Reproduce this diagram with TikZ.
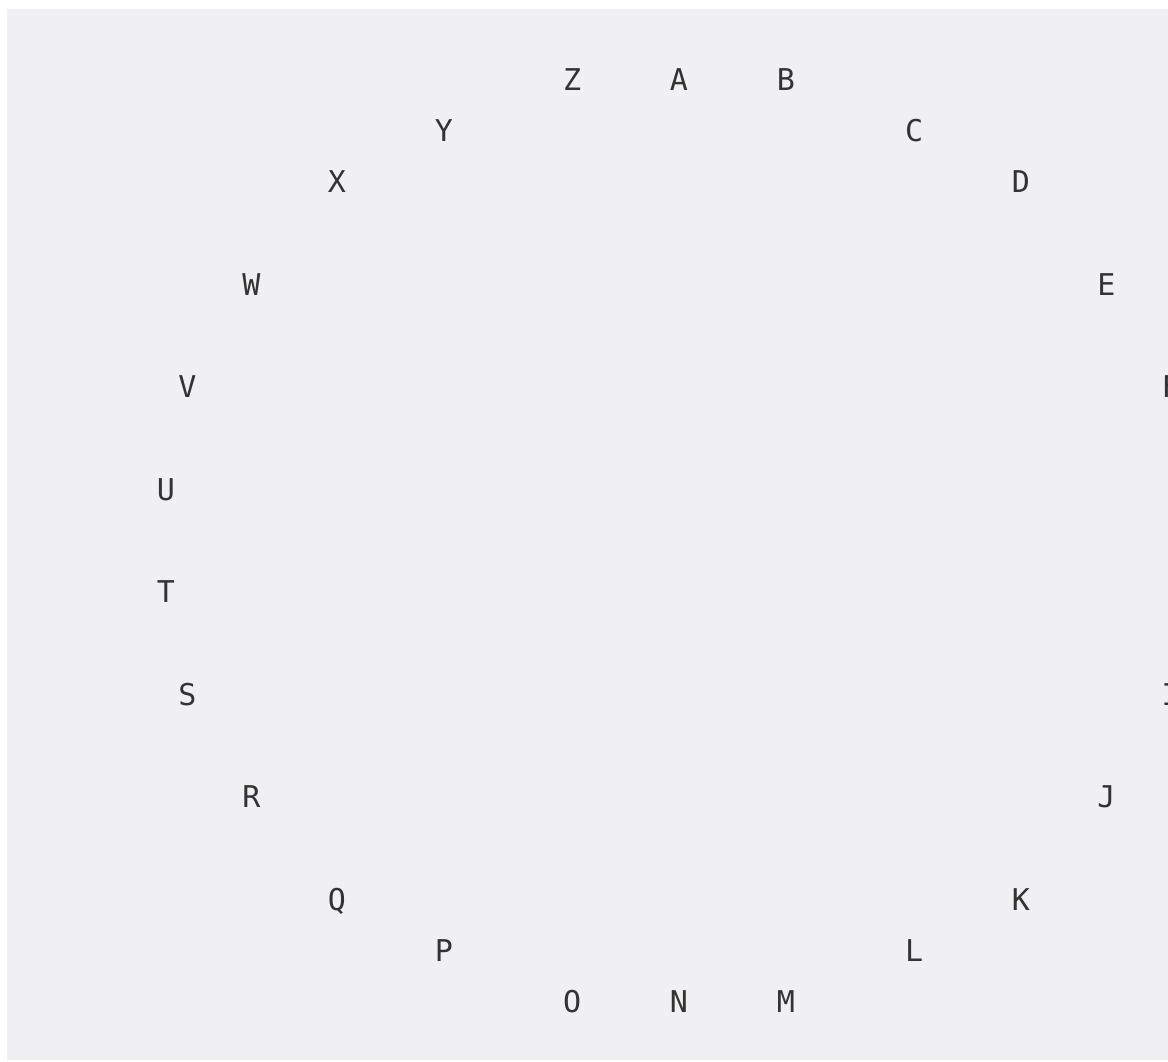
\documentclass[tikz,border=0pt]{standalone}
\usepackage{fontspec}
\setmonofont{DejaVu Sans Mono}
\usepackage{xcolor}
\definecolor{panelbg}{HTML}{F0F0F2}
\definecolor{letterfg}{HTML}{333333}

\begin{document}
\begin{tikzpicture}[x=1pt, y=-1pt,
    letter/.style={text=letterfg, font=\ttfamily\fontsize{30}{30}\selectfont, inner sep=0pt, text height=22pt, text depth=0pt, anchor=center},
]
    \useasboundingbox (0,0) rectangle (1168,1061);
    \clip (0,0) rectangle (1168,1061);
    \fill[panelbg] (7,9) rectangle (1200,1060);

    % letters on the ring, given as grid column / row from the middle
    \foreach \ch/\cx/\cy in {A/0/-9, B/5/-9, C/11/-8, D/16/-7, E/20/-5, F/23/-3,
                             I/23/3, J/20/5, K/16/7, L/11/8, M/5/9, N/0/9,
                             O/-5/9, P/-11/8, Q/-16/7, R/-20/5, S/-23/3, T/-24/1,
                             U/-24/-1, V/-23/-3, W/-20/-5, X/-16/-7, Y/-11/-8, Z/-5/-9} {
        \node[letter] (\ch) at ({679+21.375*\cx},{540.5+51.25*\cy}) {\ch};
    }
\end{tikzpicture}
\end{document}
